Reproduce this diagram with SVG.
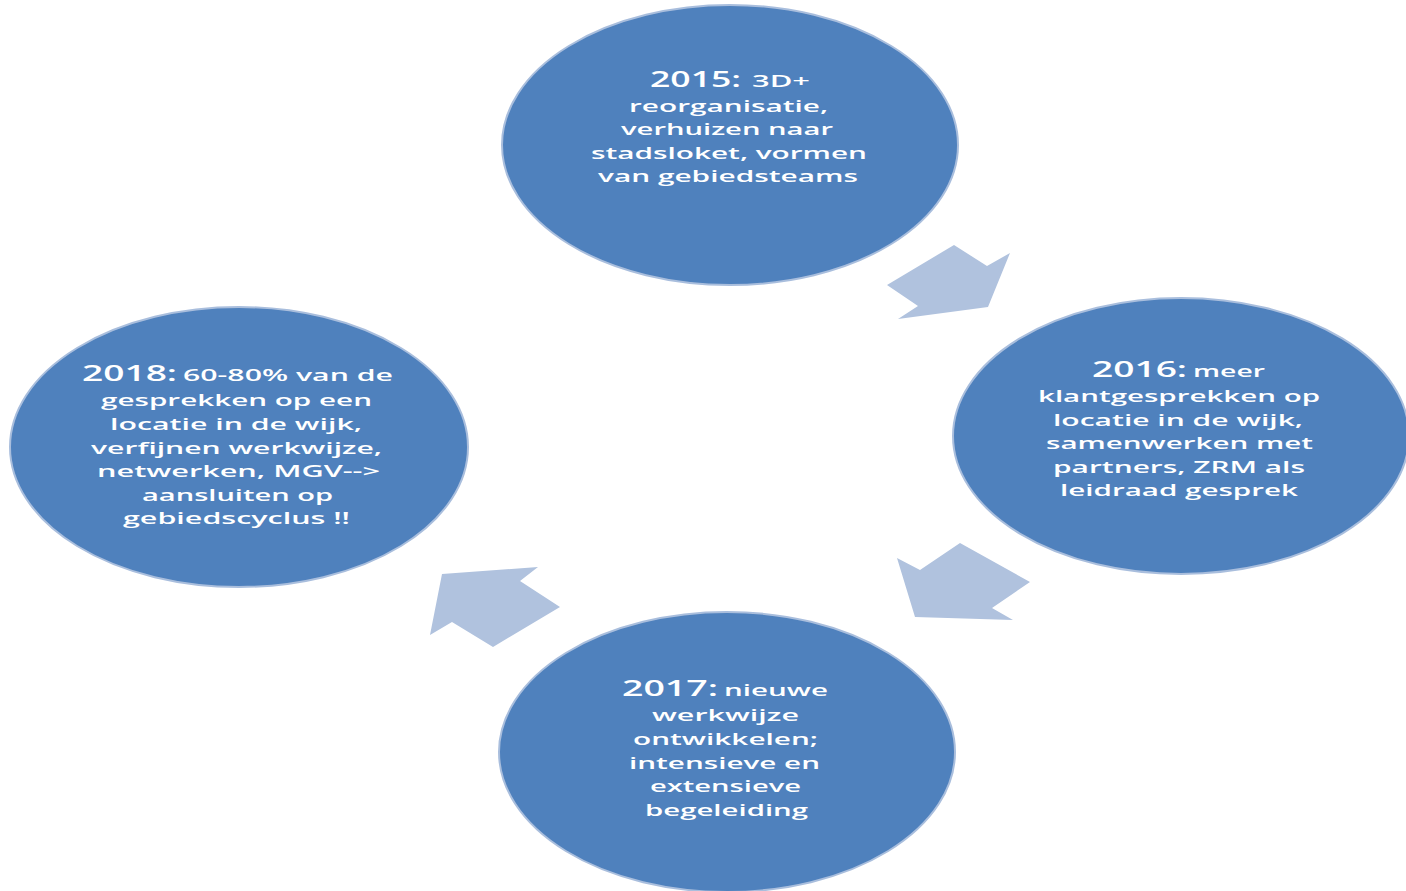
<svg xmlns="http://www.w3.org/2000/svg" width="1406" height="891" viewBox="0 0 1406 891">
<style>
.node{fill:#4F81BD;stroke:#A9BEDD;stroke-width:2}
.arrow{fill:#B0C2DE}
.t{font-family:"Open Sans","Liberation Sans",sans-serif;font-weight:600;fill:#FFFFFF;font-size:17px}
.y{font-size:22px}
</style>
<rect width="1406" height="891" fill="#FFFFFF"/>
<g id="connectors">
<polygon class="arrow" points="887,285 954,245 987,266 1010,253 988,307 898,319 918,306"/>
<polygon class="arrow" points="897,558 920,570 960,543 1030,582 992,608 1013,620 915,617"/>
<polygon class="arrow" points="442,574 538,567 520,581 560,607 493,647 452,622 430,635"/>
</g>
<g id="node-2015">
<ellipse class="node" cx="730" cy="145" rx="228" ry="140"/>
<text class="t y" x="650" y="87" textLength="91" lengthAdjust="spacingAndGlyphs">2015:</text>
<text class="t" x="752" y="87" textLength="58" lengthAdjust="spacingAndGlyphs">3D+</text>
<text class="t" x="629" y="112" textLength="199" lengthAdjust="spacingAndGlyphs">reorganisatie,</text>
<text class="t" x="621" y="135" textLength="212" lengthAdjust="spacingAndGlyphs">verhuizen naar</text>
<text class="t" x="591" y="159" textLength="276" lengthAdjust="spacingAndGlyphs">stadsloket, vormen</text>
<text class="t" x="598" y="182" textLength="260" lengthAdjust="spacingAndGlyphs">van gebiedsteams</text>
</g>
<g id="node-2016">
<ellipse class="node" cx="1181" cy="436" rx="228" ry="138"/>
<text class="t y" x="1092" y="377" textLength="95" lengthAdjust="spacingAndGlyphs">2016:</text>
<text class="t" x="1193" y="377" textLength="72" lengthAdjust="spacingAndGlyphs">meer</text>
<text class="t" x="1038" y="402" textLength="282" lengthAdjust="spacingAndGlyphs">klantgesprekken op</text>
<text class="t" x="1053" y="426" textLength="250" lengthAdjust="spacingAndGlyphs">locatie in de wijk,</text>
<text class="t" x="1046" y="449" textLength="267" lengthAdjust="spacingAndGlyphs">samenwerken met</text>
<text class="t" x="1053" y="473" textLength="252" lengthAdjust="spacingAndGlyphs">partners, ZRM als</text>
<text class="t" x="1060" y="496" textLength="238" lengthAdjust="spacingAndGlyphs">leidraad gesprek</text>
</g>
<g id="node-2017">
<ellipse class="node" cx="727" cy="752" rx="228" ry="140"/>
<text class="t y" x="622" y="696" textLength="96" lengthAdjust="spacingAndGlyphs">2017:</text>
<text class="t" x="724" y="696" textLength="104" lengthAdjust="spacingAndGlyphs">nieuwe</text>
<text class="t" x="652" y="721" textLength="147" lengthAdjust="spacingAndGlyphs">werkwijze</text>
<text class="t" x="633" y="745" textLength="185" lengthAdjust="spacingAndGlyphs">ontwikkelen;</text>
<text class="t" x="629" y="769" textLength="191" lengthAdjust="spacingAndGlyphs">intensieve en</text>
<text class="t" x="650" y="792" textLength="151" lengthAdjust="spacingAndGlyphs">extensieve</text>
<text class="t" x="645" y="816" textLength="163" lengthAdjust="spacingAndGlyphs">begeleiding</text>
</g>
<g id="node-2018">
<ellipse class="node" cx="239" cy="447" rx="229" ry="140"/>
<text class="t y" x="82" y="381" textLength="95" lengthAdjust="spacingAndGlyphs">2018:</text>
<text class="t" x="183" y="381" textLength="210" lengthAdjust="spacingAndGlyphs">60-80% van de</text>
<text class="t" x="101" y="406" textLength="271" lengthAdjust="spacingAndGlyphs">gesprekken op een</text>
<text class="t" x="110" y="430" textLength="252" lengthAdjust="spacingAndGlyphs">locatie in de wijk,</text>
<text class="t" x="91" y="454" textLength="291" lengthAdjust="spacingAndGlyphs">verfijnen werkwijze,</text>
<text class="t" x="97" y="477" textLength="283" lengthAdjust="spacingAndGlyphs">netwerken, MGV--&gt;</text>
<text class="t" x="142" y="501" textLength="191" lengthAdjust="spacingAndGlyphs">aansluiten op</text>
<text class="t" x="123" y="524" textLength="227" lengthAdjust="spacingAndGlyphs">gebiedscyclus !!</text>
</g>
</svg>
